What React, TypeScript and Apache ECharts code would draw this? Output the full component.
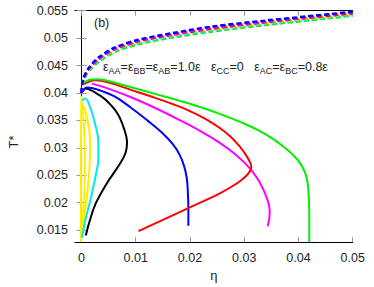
import React, { useEffect, useRef } from "react";
import * as echarts from "echarts";

const etaTicks = [0, 0.01, 0.02, 0.03, 0.04, 0.05];
const tTicks = [0.015, 0.02, 0.025, 0.03, 0.035, 0.04, 0.045, 0.05, 0.055];

// dashed (upper) branches
const dashedEta = [0, 0.0003, 0.0013, 0.0032, 0.0062, 0.0105, 0.0167, 0.024, 0.034, 0.05];
const dashBlueT = [0.04, 0.0425, 0.0445, 0.0465, 0.0483, 0.0497, 0.0509, 0.0521, 0.0532, 0.0548];
const dashMagentaT = [0.04, 0.0424, 0.0444, 0.0463, 0.0481, 0.0495, 0.0507, 0.0519, 0.053, 0.0547];
const dashRedT = [0.04, 0.0423, 0.0443, 0.0462, 0.048, 0.0494, 0.0506, 0.0517, 0.0529, 0.0545];
const dashYellowT = [0.04, 0.0423, 0.0442, 0.0461, 0.0479, 0.0493, 0.0505, 0.0516, 0.0528, 0.0544];
const dashCyanT = [0.04, 0.0422, 0.0441, 0.0459, 0.0477, 0.0491, 0.0503, 0.0514, 0.0526, 0.0542];
const dashGreenT = [0.04, 0.042, 0.0439, 0.0457, 0.0475, 0.0489, 0.0501, 0.0512, 0.0524, 0.0541];
const lowEta = [-0.0001, -0.0001, 0];
const lowT = [0.0128, 0.03, 0.0395];

// solid branches
const greenEta = [0.0004, 0.0015, 0.003, 0.006, 0.01, 0.014, 0.018, 0.022, 0.026, 0.03, 0.033, 0.0355, 0.0375, 0.039, 0.0403, 0.0412, 0.0417, 0.0419, 0.042, 0.042];
const greenT = [0.0418, 0.0424, 0.0425, 0.0419, 0.0408, 0.0397, 0.0386, 0.0374, 0.036, 0.0344, 0.033, 0.0315, 0.03, 0.0287, 0.0272, 0.0255, 0.0235, 0.021, 0.018, 0.0128];
const redEta = [0.0005, 0.0025, 0.005, 0.009, 0.013, 0.017, 0.02, 0.023, 0.0255, 0.0275, 0.0292, 0.0303, 0.031, 0.0313, 0.0311, 0.0304, 0.0292, 0.0275, 0.0255, 0.023, 0.0197, 0.0151, 0.0105];
const redT = [0.0416, 0.0423, 0.0419, 0.0406, 0.0393, 0.0379, 0.0367, 0.0352, 0.0336, 0.032, 0.0302, 0.0287, 0.0275, 0.0266, 0.0258, 0.0249, 0.0239, 0.0228, 0.0217, 0.0205, 0.019, 0.0169, 0.0148];
const magentaEta = [0.0019, 0.004, 0.0089, 0.0135, 0.018, 0.022, 0.0255, 0.0285, 0.031, 0.0328, 0.0343, 0.0347, 0.0346, 0.0343];
const magentaT = [0.0417, 0.0411, 0.0393, 0.0373, 0.0351, 0.033, 0.0309, 0.0287, 0.0263, 0.0238, 0.0205, 0.0185, 0.017, 0.0157];
const blueEta = [0.0002, 0.001, 0.003, 0.006, 0.009, 0.012, 0.0148, 0.0168, 0.0181, 0.0189, 0.0194, 0.0196, 0.0197, 0.0197];
const blueT = [0.0402, 0.041, 0.0406, 0.0394, 0.0374, 0.0351, 0.0328, 0.0307, 0.0287, 0.0267, 0.0245, 0.022, 0.019, 0.0158];
const blackEta = [0, 0.0008, 0.0025, 0.0044, 0.0066, 0.0079, 0.0084, 0.0081, 0.0069, 0.0046, 0.0026, 0.0014, 0.0008];
const blackT = [0.0402, 0.0408, 0.0401, 0.0388, 0.0363, 0.0333, 0.031, 0.029, 0.0268, 0.0234, 0.0198, 0.0163, 0.014];
const cyanEta = [0.0001, 0.0007, 0.0016, 0.0025, 0.0031, 0.0031, 0.0027, 0.0016, 0.0007, 0.0001];
const cyanT = [0.0386, 0.039, 0.0374, 0.0344, 0.031, 0.028, 0.0253, 0.0203, 0.0168, 0.0136];
const yellowEta = [0, 0.0006, 0.0012, 0.0016, 0.0015, 0.0011, 0.0006, 0.0001, 0.0004, 0.0006, 0.0006, 0.0004, 0];
const yellowT = [0.0383, 0.037, 0.0345, 0.031, 0.027, 0.022, 0.018, 0.0138, 0.02, 0.025, 0.03, 0.035, 0.0383];

const zip = (xs: number[], ys: number[]) => xs.map((x, i) => [x, ys[i]]);

const FONT = "Liberation Sans, Arial, sans-serif";

export default function App() {
  const ref = useRef<HTMLDivElement>(null);
  useEffect(() => {
    document.body.style.margin = "0";
    const chart = echarts.init(ref.current!, null, { renderer: "svg" });
    const solid = (name: string, color: string, xs: number[], ys: number[]) => ({
      name, type: "line", data: zip(xs, ys), showSymbol: false, smooth: 0.4,
      lineStyle: { color, width: 2 }, z: 2,
    });
    const dashed = (name: string, color: string, xs: number[], ys: number[]) => ({
      name, type: "line", data: zip(xs, ys), showSymbol: false, smooth: 0.3,
      lineStyle: { color, width: 2.5, type: [5, 3] }, z: 3,
    });
    const tickStyle = { show: true, inside: true, length: 5, lineStyle: { color: "#999", width: 1 } };
    const axisLine = { show: true, lineStyle: { color: "#000", width: 1 } };
    const fmt = (v: number) => String(+v.toFixed(3));
    chart.setOption({
      animation: false,
      grid: { left: 75, right: 21.3, top: 10.7, bottom: 38.7 },
      xAxis: [
        {
          type: "value", min: -0.0012, max: 0.05, position: "bottom",
          axisLine, splitLine: { show: false },
          axisTick: { ...tickStyle, customValues: etaTicks },
          axisLabel: { customValues: etaTicks, formatter: fmt, color: "#222", fontSize: 12.5, fontFamily: FONT, margin: 9 },
          name: "η", nameLocation: "middle", nameGap: 24,
          nameTextStyle: { color: "#222", fontSize: 13, fontFamily: FONT },
        },
        {
          type: "value", min: -0.0012, max: 0.05, position: "top",
          axisLine, splitLine: { show: false },
          axisTick: { ...tickStyle, customValues: etaTicks },
          axisLabel: { show: false },
        },
      ],
      yAxis: [
        {
          type: "value", min: 0.0128, max: 0.055, position: "left",
          axisLine, splitLine: { show: false },
          axisTick: { ...tickStyle, customValues: tTicks },
          axisLabel: { customValues: tTicks, formatter: fmt, color: "#222", fontSize: 12.5, fontFamily: FONT, margin: 7 },
        },
        {
          type: "value", min: 0.0128, max: 0.055, position: "right",
          axisLine, splitLine: { show: false },
          axisTick: { ...tickStyle, customValues: tTicks },
          axisLabel: { show: false },
        },
      ],
      graphic: [
        { type: "text", x: 94, y: 23, style: { text: "(b)", fontSize: 12.5, fontFamily: FONT, fill: "#222", verticalAlign: "middle" } },
        {
          type: "text", x: 13, y: 142, rotation: Math.PI / 2,
          style: { text: "T*", fontSize: 13, fontFamily: FONT, fill: "#222", align: "center", verticalAlign: "middle" },
        },
        {
          type: "text", x: 103, y: 67, z: 10,
          style: {
            text: "{m|ε}{s|AA}{m|=ε}{s|BB}{m|=ε}{s|AB}{m|=1.0ε   ε}{s|CC}{m|=0   ε}{s|AC}{m|=ε}{s|BC}{m|=0.8ε}",
            verticalAlign: "middle", fill: "#222", fontFamily: FONT,
            rich: {
              m: { fontSize: 12.5, fontFamily: FONT, fill: "#222", lineHeight: 16 },
              s: { fontSize: 9, fontFamily: FONT, fill: "#222", lineHeight: 6, verticalAlign: "bottom" },
            },
          },
        },
      ],
      series: [
        solid("yellow low", "#ffee00", lowEta, lowT),
        solid("yellow", "#ffee00", yellowEta, yellowT),
        solid("cyan", "#00e8f0", cyanEta, cyanT),
        solid("black", "#000000", blackEta, blackT),
        solid("blue", "#0000ff", blueEta, blueT),
        solid("magenta", "#ff00ff", magentaEta, magentaT),
        solid("red", "#ff0000", redEta, redT),
        solid("green", "#00ee00", greenEta, greenT),
        dashed("green d", "#00ee00", dashedEta, dashGreenT),
        dashed("cyan d", "#00e8f0", dashedEta, dashCyanT),
        dashed("yellow d", "#ffee00", dashedEta, dashYellowT),
        dashed("red d", "#ff0000", dashedEta, dashRedT),
        dashed("magenta d", "#ff00ff", dashedEta, dashMagentaT),
        dashed("blue d", "#0000ff", dashedEta, dashBlueT),
      ],
    });
    return () => chart.dispose();
  }, []);
  return <div ref={ref} style={{ width: 374, height: 287 }} />;
}
